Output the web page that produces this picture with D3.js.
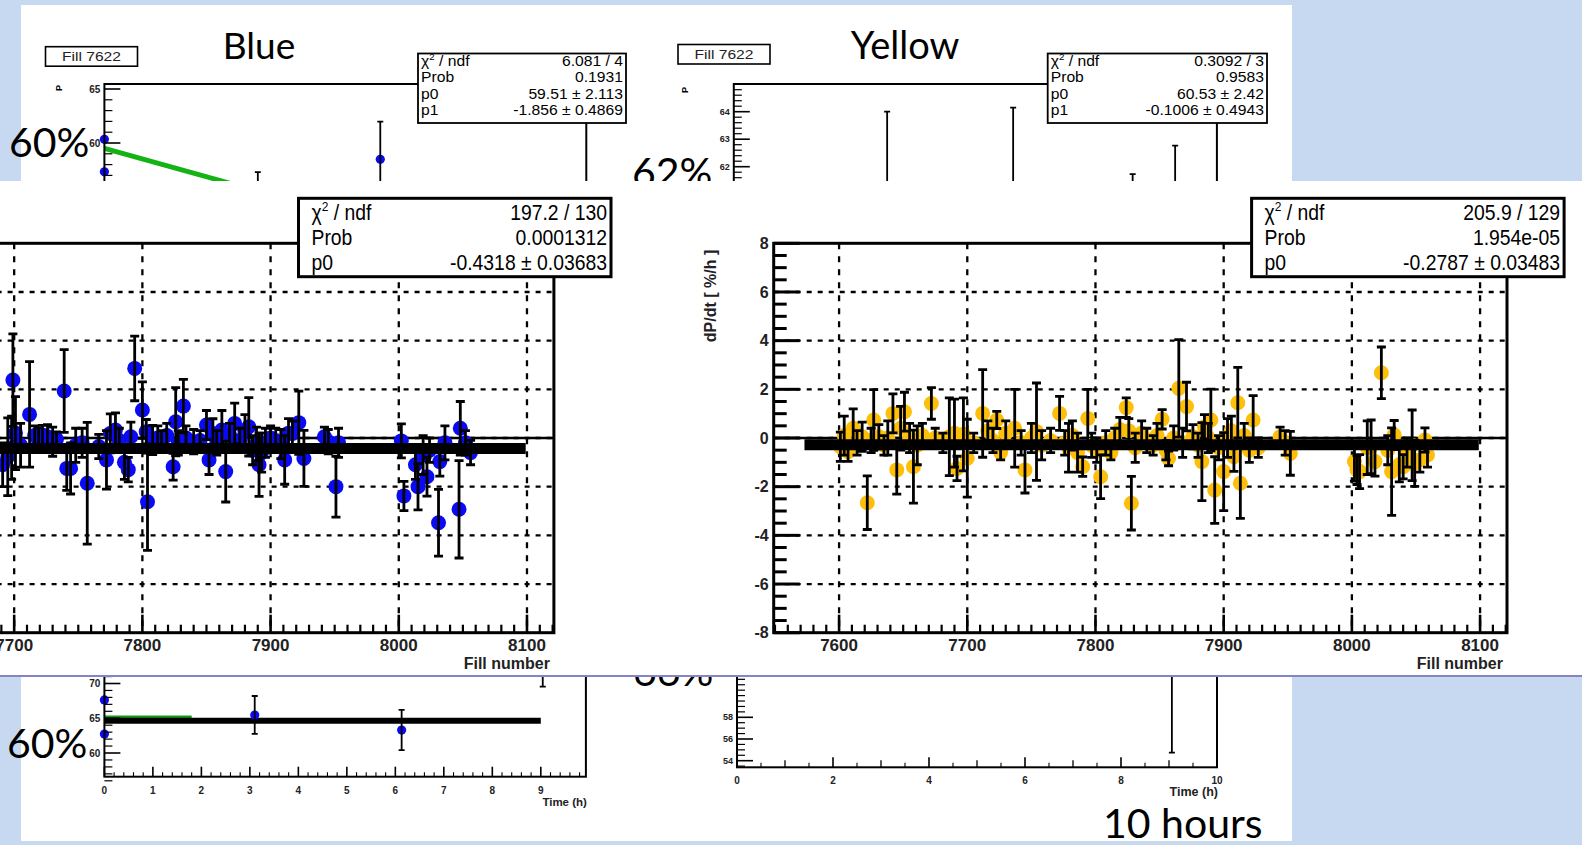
<!DOCTYPE html>
<html>
<head>
<meta charset="utf-8">
<title>Polarization decay rate per fill</title>
<script src="https://cdn.jsdelivr.net/npm/d3@7/dist/d3.min.js"></script>
<style>
  html, body { margin: 0; padding: 0; background: #c6d9f1; }
  svg { display: block; }
</style>
</head>
<body>
<svg id="slide" width="1582" height="845"></svg>
<script>
// ---------- dP/dt per fill ----------
const fillTicks = [7600, 7700, 7800, 7900, 8000, 8100];
const rateTicks = [-8, -6, -4, -2, 0, 2, 4, 6, 8];
const fillDomain = [7549, 8121];
const fitRange = [7573, 8099];

// [fill, dP/dt (%/h), error]
const blueRate = [
  [7691, -1.10, 0.9], [7695, -0.77, 1.6], [7698, -0.40, 1.3], [7699, 2.38, 1.9], [7701, 0.20, 1.5],
  [7705, -0.30, 0.9], [7712, 0.97, 2.17], [7716, 0.10, 0.4], [7719, -0.08, 0.5], [7722, 0.12, 0.4],
  [7726, 0.05, 0.5], [7730, -0.15, 0.6], [7733, -0.05, 0.3], [7739, 1.93, 1.7], [7741, -1.25, 0.9],
  [7744, -1.25, 1.05], [7748, -0.30, 0.7], [7753, -0.20, 0.6], [7757, -1.86, 2.5], [7766, -0.35, 0.5],
  [7772, -0.90, 1.2], [7775, 0.19, 0.8], [7779, 0.33, 0.7], [7782, -0.10, 0.5], [7786, -1.00, 0.7],
  [7789, -1.30, 0.5], [7791, 0.05, 0.6], [7794, 2.86, 1.33], [7800, 1.15, 1.16], [7803, 0.26, 0.5],
  [7804, -2.62, 2.0], [7808, -0.08, 0.6], [7812, 0.00, 0.5], [7815, -0.10, 0.4], [7819, 0.10, 0.5],
  [7824, -1.18, 0.55], [7826, 0.67, 1.4], [7828, -0.20, 0.5], [7832, 1.31, 1.1], [7834, 0.00, 0.5],
  [7840, -0.15, 0.5], [7845, -0.10, 0.4], [7850, 0.53, 0.6], [7852, -0.90, 0.6], [7855, 0.19, 0.6],
  [7858, -0.20, 0.5], [7862, 0.33, 0.8], [7865, -1.38, 1.25], [7868, 0.10, 0.5], [7872, 0.60, 0.83],
  [7876, -0.10, 0.5], [7880, 0.26, 0.7], [7883, 0.46, 1.2], [7886, -0.50, 0.6], [7889, -0.25, 0.7],
  [7891, -1.10, 1.3], [7893, -0.60, 0.8], [7896, -0.20, 0.6], [7900, 0.00, 0.5], [7904, -0.10, 0.5],
  [7908, -0.25, 0.6], [7911, -0.90, 1.0], [7914, 0.20, 0.6], [7917, 0.19, 0.5], [7922, 0.63, 1.3],
  [7926, -0.84, 1.15], [7942, 0.05, 0.4], [7945, -0.15, 0.5], [7951, -2.00, 1.25], [7953, -0.20, 0.6],
  [8002, -0.12, 0.7], [8004, -2.38, 0.6], [8013, -1.10, 0.6], [8015, -2.00, 0.95], [8019, -0.70, 0.8],
  [8022, -1.59, 0.8], [8024, -0.50, 0.5], [8031, -3.48, 1.37], [8032, -0.97, 0.6], [8036, -0.20, 0.7],
  [8047, -2.93, 2.0], [8048, 0.40, 1.1], [8052, -0.20, 0.5], [8056, -0.60, 0.5]
];

const yellowRate = [
  [7601, -0.36, 0.6], [7604, 0.10, 0.8], [7607, -0.56, 0.4], [7611, 0.40, 0.8], [7614, -0.20, 0.5],
  [7618, 0.05, 0.6], [7622, -2.66, 1.1], [7625, -0.10, 0.5], [7627, 0.74, 1.25], [7631, 0.05, 0.5],
  [7635, -0.30, 0.4], [7638, 0.00, 0.7], [7642, 1.01, 0.8], [7645, -1.31, 1.0], [7648, 0.40, 0.9],
  [7651, 1.08, 0.8], [7655, 0.00, 0.6], [7658, -1.18, 1.5], [7661, -0.30, 0.8], [7665, 0.10, 0.5],
  [7672, 1.42, 0.65], [7675, 0.00, 0.4], [7681, -0.20, 0.4], [7686, 0.05, 1.6], [7690, 0.20, 1.4],
  [7692, -1.25, 0.5], [7697, 0.15, 1.5], [7700, -0.83, 1.6], [7705, -0.20, 0.4], [7712, 1.01, 1.8],
  [7716, 0.30, 0.4], [7720, -0.10, 0.5], [7723, 0.74, 0.35], [7726, -0.60, 0.3], [7730, 0.20, 0.5],
  [7737, 0.40, 1.6], [7742, -0.20, 0.5], [7745, -1.31, 0.95], [7750, 0.00, 0.6], [7754, 0.26, 2.0],
  [7758, -0.30, 0.6], [7765, -0.10, 0.5], [7772, 1.01, 0.7], [7776, -0.20, 0.5], [7779, -0.40, 1.0],
  [7782, 0.10, 0.6], [7786, -0.60, 0.8], [7790, -1.18, 0.4], [7794, 0.80, 1.2], [7797, -0.30, 0.5],
  [7801, -0.50, 0.5], [7804, -1.59, 0.9], [7808, -0.20, 0.5], [7812, -0.60, 0.3], [7815, 0.00, 0.4],
  [7819, 0.35, 0.5], [7824, 1.25, 0.4], [7826, 0.30, 0.5], [7828, -2.68, 1.1], [7831, -0.40, 0.6],
  [7836, 0.20, 0.5], [7840, -0.10, 0.5], [7845, -0.30, 0.4], [7848, 0.10, 0.5], [7852, 0.77, 0.4],
  [7855, -0.50, 0.4], [7857, -0.84, 0.3], [7861, 0.00, 0.5], [7865, 2.04, 2.0], [7868, -0.20, 0.6],
  [7871, 1.29, 1.0], [7876, 0.05, 0.5], [7880, -0.30, 0.5], [7883, -0.97, 1.6], [7885, 0.46, 0.5],
  [7888, 0.00, 0.6], [7890, 0.74, 1.27], [7893, -2.14, 1.37], [7896, -0.40, 0.5], [7900, -1.38, 1.6],
  [7903, 0.00, 0.8], [7906, 0.30, 0.6], [7908, -0.77, 0.6], [7911, 1.45, 1.45], [7913, -1.86, 1.44],
  [7916, 0.10, 0.5], [7920, -0.50, 0.5], [7923, 0.74, 1.0], [7927, -0.40, 0.4], [7944, 0.05, 0.4],
  [7948, -0.20, 0.5], [7952, -0.63, 0.9], [8002, -0.97, 0.8], [8004, -1.31, 0.6], [8006, -1.38, 0.7],
  [8012, -0.40, 1.1], [8015, -0.36, 1.1], [8018, -0.97, 0.6], [8023, 2.68, 1.06], [8028, -0.50, 0.6],
  [8031, -1.38, 1.8], [8033, 0.12, 0.6], [8037, -1.10, 0.7], [8040, -1.18, 0.5], [8043, -0.60, 0.6],
  [8047, -0.30, 1.45], [8049, -1.04, 0.95], [8053, -0.90, 0.5], [8057, -0.08, 0.5], [8059, -0.70, 0.5]
];

const blueRateFit = -0.4318;
const yellowRateFit = -0.2787;
const blueRateStats = [["chi2", "197.2 / 130"], ["Prob", "0.0001312"], ["p0", "-0.4318 \u00b1 0.03683"]];
const yellowRateStats = [["chi2", "205.9 / 129"], ["Prob", "1.954e-05"], ["p0", "-0.2787 \u00b1 0.03483"]];

// ---------- fill 7622: polarization vs time ----------
// [time (h), P (%), error]
const blueP7622 = [[0, 60.34, 0], [0, 57.34, 0], [2.13, 54.0, 3.3], [3.83, 58.49, 3.48]];
const yellowP7622 = [[2.13, 58.0, 6.0], [3.88, 57.5, 6.65], [5.54, 59.5, 2.23], [6.13, 59.0, 3.77]];
const blueP7622Fit = [59.51, -1.856];
const yellowP7622Fit = [60.53, -0.1006];
const blueP7622Stats = [["chi2", "6.081 / 4"], ["Prob", "0.1931"], ["p0", "59.51 \u00b1 2.113"], ["p1", "-1.856 \u00b1 0.4869"]];
const yellowP7622Stats = [["chi2", "0.3092 / 3"], ["Prob", "0.9583"], ["p0", "60.53 \u00b1  2.42"], ["p1", "-0.1006 \u00b1 0.4943"]];
const fillLabel = "Fill 7622";

// ---------- long fills: polarization vs time ----------
const blueLongP = [[0, 67.63, 0], [0, 62.73, 0], [3.1, 65.47, 2.73], [6.13, 63.3, 2.9], [9.04, 73.0, 3.45]];
const blueLongFit = [64.65, 0];
const blueLongFitEarly = [65.2, 0];
const yellowLongP = [[9.06, 62.5, 7.76]];

// ---------- drawing ----------
const svg = d3.select('#slide');
const SANS = "'Liberation Sans', Arial, Helvetica, sans-serif";
const SLIDE_FONT = "Lato, 'Open Sans', sans-serif";
const BLUE = '#0a0af5';
const YELLOW = '#fdbf0a';

function label(parent, str, x, y, o = {}) {
  let tf = `translate(${x},${y})`;
  if (o.rot) tf += ` rotate(${o.rot})`;
  if (o.sx && o.sx !== 1) tf += ` scale(${o.sx},1)`;
  return parent.append('text')
    .attr('transform', tf)
    .attr('text-anchor', o.anchor || 'start')
    .attr('font-family', o.family || SANS)
    .attr('font-size', o.size || 12)
    .attr('font-weight', o.weight || 'normal')
    .attr('fill', o.fill || '#000')
    .text(str);
}

function statsBox(parent, rows, box, o) {
  const [x1, y1, x2, y2] = box;
  parent.append('rect').attr('x', x1).attr('y', y1)
    .attr('width', x2 - x1).attr('height', y2 - y1)
    .attr('fill', '#fff').attr('stroke', '#000').attr('stroke-width', o.stroke);
  rows.forEach((r, i) => {
    const yb = o.firstBaseline + i * o.step;
    if (r[0] === 'chi2') {
      const t = label(parent, '', x1 + o.padL, yb, { size: o.size, sx: o.sx });
      t.append('tspan').text('\u03c7');
      t.append('tspan').attr('dy', -o.size * 0.38).attr('font-size', o.size * 0.62).text('2');
      t.append('tspan').attr('dy', o.size * 0.38).text(' / ndf');
    } else {
      label(parent, r[0], x1 + o.padL, yb, { size: o.size, sx: o.sx });
    }
    label(parent, r[1], x2 - o.padR, yb, { size: o.size, sx: o.sx, anchor: 'end' });
  });
}

function errorBars(parent, pts, x, y, o) {
  parent.append('g').selectAll('path').data(pts.filter(d => d[2] > 0)).join('path')
    .attr('d', d => {
      const cx = x(d[0]), lo = y(d[1] - d[2]), hi = y(d[1] + d[2]), c = o.cap;
      return `M${cx},${lo}V${hi}M${cx - c},${hi}H${cx + c}M${cx - c},${lo}H${cx + c}`;
    })
    .attr('fill', 'none').attr('stroke', '#000').attr('stroke-width', o.width);
}

function tickLines(parent, vals, fn, width) {
  parent.append('g').selectAll('line').data(vals).join('line')
    .each(function (d) {
      const [x1, y1, x2, y2] = fn(d);
      d3.select(this).attr('x1', x1).attr('y1', y1).attr('x2', x2).attr('y2', y2);
    })
    .attr('stroke', '#000').attr('stroke-width', width);
}

// small P-vs-time panel
function timePanel(p) {
  const g = svg.append('g');
  const x = d3.scaleLinear().domain(p.tDomain).range(p.tRange);
  const y = d3.scaleLinear().domain(p.pDomain).range(p.pRange);
  const { L, R, T, B } = p.frame;

  p.fits.forEach(f => {
    g.append('line')
      .attr('x1', x(f.t[0])).attr('y1', y(f.c[0] + f.c[1] * f.t[0]))
      .attr('x2', x(f.t[1])).attr('y2', y(f.c[0] + f.c[1] * f.t[1]))
      .attr('stroke', f.color).attr('stroke-width', f.width);
  });
  g.append('g').selectAll('circle').data(p.points).join('circle')
    .attr('cx', d => x(d[0])).attr('cy', d => y(d[1])).attr('r', 4.6).attr('fill', BLUE);
  errorBars(g, p.points, x, y, { cap: 3, width: 1.8 });

  g.append('rect').attr('x', L).attr('y', T).attr('width', R - L).attr('height', B - T)
    .attr('fill', 'none').attr('stroke', '#000').attr('stroke-width', 2);

  tickLines(g, p.yMajor, d => [L, y(d), L + 16, y(d)], 1.6);
  tickLines(g, p.yMinor, d => [L, y(d), L + 8, y(d)], 1.2);
  g.append('g').selectAll('text').data(p.yLabels).join('text')
    .attr('x', L - 4).attr('y', d => y(d)).attr('dy', '0.35em')
    .attr('text-anchor', 'end').attr('font-family', SANS).attr('font-weight', 'bold')
    .attr('font-size', p.labelSize).attr('fill', '#222').text(d => d);
  label(g, 'P', p.titleX, p.titleY, { rot: -90, size: 9, weight: 'bold', anchor: 'middle' });

  if (p.xMajor) {
    tickLines(g, p.xMajor, d => [x(d), B, x(d), B - 10], 1.6);
    tickLines(g, p.xMid || [], d => [x(d), B, x(d), B - 7], 1.3);
    tickLines(g, p.xMinor, d => [x(d), B, x(d), B - 4.5], 1.1);
    g.append('g').selectAll('text').data(p.xLabels).join('text')
      .attr('x', d => x(d)).attr('y', B + 17)
      .attr('text-anchor', 'middle').attr('font-family', SANS).attr('font-weight', 'bold')
      .attr('font-size', 10).attr('fill', '#222').text(d => d);
    label(g, 'Time (h)', R + 1, B + 29, { size: p.timeSize, weight: 'bold', anchor: 'end', fill: '#222' });
  }
  if (p.stats) {
    statsBox(g, p.stats, p.statsBox, { stroke: 1.8, size: 14, sx: 1.12, padL: 3, padR: 3, firstBaseline: p.statsBox[1] + 12, step: 16.6 });
  }
  return g;
}

// slide background card
svg.append('rect').attr('x', 21).attr('y', 5).attr('width', 1271).attr('height', 836).attr('fill', '#fff');

// fill 7622, blue ring
const stepRange = (a, b, s) => d3.range(a, b + s / 2, s);
timePanel({
  tDomain: [0, 6.69], tRange: [104.4, 586.3],
  pDomain: [65, 60], pRange: [89, 143],
  frame: { L: 104.4, R: 586.3, T: 84, B: 320 },
  points: blueP7622,
  fits: [{ c: blueP7622Fit, t: [0, 6.69], color: '#12b312', width: 5 }],
  yMajor: [60, 65], yMinor: stepRange(45, 65, 1).filter(v => v % 5 !== 0), yLabels: [60, 65],
  labelSize: 10, titleX: 62, titleY: 88,
  stats: blueP7622Stats, statsBox: [418, 53.5, 626, 123]
});
// fill 7622, yellow ring
timePanel({
  tDomain: [0, 6.71], tRange: [733.8, 1216.9],
  pDomain: [64, 62], pRange: [111.7, 166.7],
  frame: { L: 733.8, R: 1216.9, T: 84, B: 320 },
  points: yellowP7622,
  fits: [{ c: yellowP7622Fit, t: [0, 6.71], color: '#12b312', width: 5 }],
  yMajor: [62, 63, 64], yMinor: stepRange(57, 65, 0.2).filter(v => Math.abs(v - Math.round(v)) > 0.01),
  yLabels: [62, 63, 64], labelSize: 9, titleX: 688, titleY: 90,
  stats: yellowP7622Stats, statsBox: [1047.7, 53.5, 1267, 123]
});

// fill labels
[[45.5, 46.7], [678, 44.5]].forEach(([bx, by]) => {
  svg.append('rect').attr('x', bx).attr('y', by).attr('width', 92).attr('height', 19.5)
    .attr('fill', '#fff').attr('stroke', '#000').attr('stroke-width', 1.6);
  label(svg, fillLabel, bx + 46, by + 14.5, { size: 12, sx: 1.3, anchor: 'middle', fill: '#222' });
});

// long fill, blue ring
timePanel({
  tDomain: [0, 9], tRange: [104.4, 540.8],
  pDomain: [70, 60], pRange: [683.5, 753],
  frame: { L: 104.4, R: 585.9, T: 560, B: 776.7 },
  points: blueLongP,
  fits: [
    { c: blueLongFitEarly, t: [0, 1.8], color: '#139a13', width: 2.5 },
    { c: blueLongFit, t: [0, 9], color: '#000', width: 6 }
  ],
  yMajor: [60, 65, 70], yMinor: stepRange(56, 76, 1).filter(v => v % 5 !== 0), yLabels: [60, 65, 70],
  labelSize: 10, titleX: 60, titleY: 600,
  xMajor: stepRange(0, 9, 1), xMinor: stepRange(0, 9.8, 0.2).filter(v => Math.abs(v - Math.round(v)) > 0.01),
  xLabels: stepRange(0, 9, 1), timeSize: 11.5
});
// long fill, yellow ring
timePanel({
  tDomain: [0, 10], tRange: [737, 1217],
  pDomain: [58, 54], pRange: [717.3, 760.7],
  frame: { L: 737, R: 1217, T: 560, B: 767.3 },
  points: yellowLongP,
  fits: [],
  yMajor: [54, 56, 58, 62], yMinor: stepRange(53.5, 66, 0.5).filter(v => ![54, 56, 58, 62].includes(v)),
  yLabels: [54, 56, 58, 62], labelSize: 9, titleX: 690, titleY: 600,
  xMajor: stepRange(0, 10, 2), xMid: [1, 3, 5, 7, 9], xMinor: stepRange(0.5, 9.5, 1),
  xLabels: stepRange(0, 10, 2), timeSize: 12.5
});

// slide annotations
label(svg, 'Blue', 259, 59, { family: SLIDE_FONT, size: 37, anchor: 'middle' });
label(svg, 'Yellow', 905, 59, { family: SLIDE_FONT, size: 38, anchor: 'middle' });
label(svg, '60%', 9, 157, { family: SLIDE_FONT, size: 41 });
label(svg, '62%', 632, 187, { family: SLIDE_FONT, size: 41 });
label(svg, '66%', 633, 686, { family: SLIDE_FONT, size: 41 });
label(svg, '60%', 7, 758, { family: SLIDE_FONT, size: 41 });
label(svg, '10 hours', 1103, 838, { family: SLIDE_FONT, size: 41 });

// ---------- dP/dt panels on top ----------
svg.append('rect').attr('x', 0).attr('y', 181).attr('width', 1582).attr('height', 495).attr('fill', '#fff');
svg.append('line').attr('x1', 0).attr('x2', 1582).attr('y1', 676).attr('y2', 676)
  .attr('stroke', '#8585c6').attr('stroke-width', 2);

function ratePanel(left, pts, color, fit, stats) {
  const x = d3.scaleLinear().domain(fillDomain).range([left, left + 733.3]);
  const y = d3.scaleLinear().domain([-8, 8]).range([632.7, 243.3]);
  const [xl, xr] = x.range(), [yb, yt] = y.range();
  const g = svg.append('g');

  g.append('g').selectAll('line').data(fillTicks).join('line')
    .attr('x1', d => x(d)).attr('x2', d => x(d)).attr('y1', yt).attr('y2', yb)
    .attr('stroke', '#000').attr('stroke-width', 2.3).attr('stroke-dasharray', '6,7');
  g.append('g').selectAll('line').data(rateTicks.filter(v => Math.abs(v) < 8)).join('line')
    .attr('x1', xl).attr('x2', xr).attr('y1', d => y(d)).attr('y2', d => y(d))
    .attr('stroke', '#000').attr('stroke-width', 2.3).attr('stroke-dasharray', '5,6');
  g.append('line').attr('x1', xl).attr('x2', xr).attr('y1', y(0)).attr('y2', y(0))
    .attr('stroke', '#000').attr('stroke-width', 2.5);

  g.append('g').selectAll('circle').data(pts).join('circle')
    .attr('cx', d => x(d[0])).attr('cy', d => y(d[1])).attr('r', 7.5).attr('fill', color);
  errorBars(g, pts, x, y, { cap: 4.5, width: 2.8 });

  g.append('line').attr('x1', x(fitRange[0])).attr('x2', x(fitRange[1]))
    .attr('y1', y(fit)).attr('y2', y(fit)).attr('stroke', '#000').attr('stroke-width', 11);

  g.append('rect').attr('x', xl).attr('y', yt).attr('width', xr - xl).attr('height', yb - yt)
    .attr('fill', 'none').attr('stroke', '#000').attr('stroke-width', 3);

  const yMinor = d3.range(-8, 8.001, 0.5).filter(v => !rateTicks.includes(v));
  tickLines(g, rateTicks, d => [xl, y(d), xl + 26, y(d)], 3);
  tickLines(g, yMinor, d => [xl, y(d), xl + 13, y(d)], 3);
  const xMinor = d3.range(7550, 8121, 10).filter(v => !fillTicks.includes(v));
  tickLines(g, fillTicks, d => [x(d), yb, x(d), yb - 18], 2.6);
  tickLines(g, xMinor, d => [x(d), yb, x(d), yb - 8], 2.2);

  // axis labels that fall off the left edge of the slide are not drawn
  const onSlide = xl - 5 > 30;
  g.append('g').selectAll('text').data(onSlide ? rateTicks : []).join('text')
    .attr('x', xl - 5).attr('y', d => y(d)).attr('dy', '0.36em')
    .attr('text-anchor', 'end').attr('font-family', SANS).attr('font-weight', 'bold')
    .attr('font-size', 16).attr('fill', '#222').text(d => d);
  g.append('g').selectAll('text').data(fillTicks.filter(d => x(d) > -5)).join('text')
    .attr('x', d => x(d)).attr('y', 651)
    .attr('text-anchor', 'middle').attr('font-family', SANS).attr('font-weight', 'bold')
    .attr('font-size', 17).attr('fill', '#222').text(d => d);
  label(g, 'Fill number', xr - 4, 669, { size: 16, weight: 'bold', anchor: 'end', fill: '#222' });
  if (onSlide) {
    label(g, 'dP/dt [ %/h ]', xl - 58, 296, { rot: -90, size: 16, weight: 'bold', anchor: 'middle', fill: '#222' });
  }

  statsBox(g, stats, [left + 477.9, 198.3, left + 790.4, 276.7],
    { stroke: 3, size: 22, sx: 0.88, padL: 13, padR: 4, firstBaseline: 219.5, step: 25 });
}

ratePanel(-179.4, blueRate, BLUE, blueRateFit, blueRateStats);
ratePanel(773.7, yellowRate, YELLOW, yellowRateFit, yellowRateStats);
</script>
</body>
</html>
